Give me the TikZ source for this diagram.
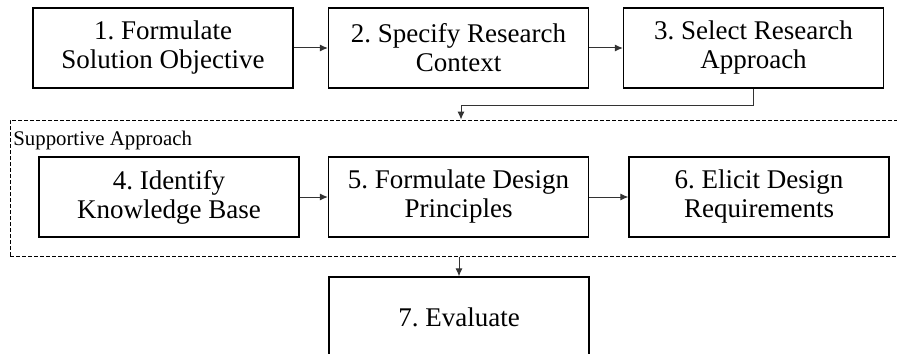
\documentclass[tikz,border=0pt]{standalone}
\usepackage{fontspec}
\setmainfont{Liberation Serif}
\usetikzlibrary{arrows.meta}

\begin{document}
\frenchspacing
\begin{tikzpicture}[x=0.5pt,y=-0.5pt,
    stage/.style={draw,line width=0.7pt,align=center,minimum width=130pt,minimum height=40pt,font=\fontsize{13.5}{14.5}\selectfont},
    flow/.style={draw=black!80,line width=0.5pt,-{Latex[length=4pt,width=3.6pt]}}]
            \useasboundingbox (0,0) rectangle (897,353);

            \node (s1) at (163,48) [stage] {1. Formulate\\Solution Objective};
            \node (s2) at (458.5,48) [stage] {2. Specify Research\\Context};
            \node (s3) at (753.5,48) [stage] {3. Select Research\\Approach};

            \node (sup) at (457.5,188) [draw,dash pattern=on 2pt off 1pt,line width=0.5pt,minimum width=447.5pt,minimum height=68pt,inner sep=0pt] {};
            \node (suplabel) at (13,140) [anchor=west,inner sep=0pt,font=\fontsize{10.4}{12}\selectfont] {Supportive Approach};

            \node (s4) at (169,197) [stage] {4. Identify\\Knowledge Base};
            \node (s5) at (458.5,197) [stage] {5. Formulate Design\\Principles};
            \node (s6) at (759,197) [stage] {6. Elicit Design\\Requirements};

            \node (s7) at (459,317) [stage] {7. Evaluate};

            \coordinate (bend) at (461,105);

            \draw[flow] (s1) -- (s2);
            \draw[flow] (s2) -- (s3);
            \draw[flow] (s3.south) |- (bend) -- (bend |- sup.north);
            \draw[flow] (s4) -- (s5);
            \draw[flow] (s5) -- (s6);
            \draw[flow] (s7.north |- sup.south) -- (s7.north);

        \end{tikzpicture}
\end{document}
